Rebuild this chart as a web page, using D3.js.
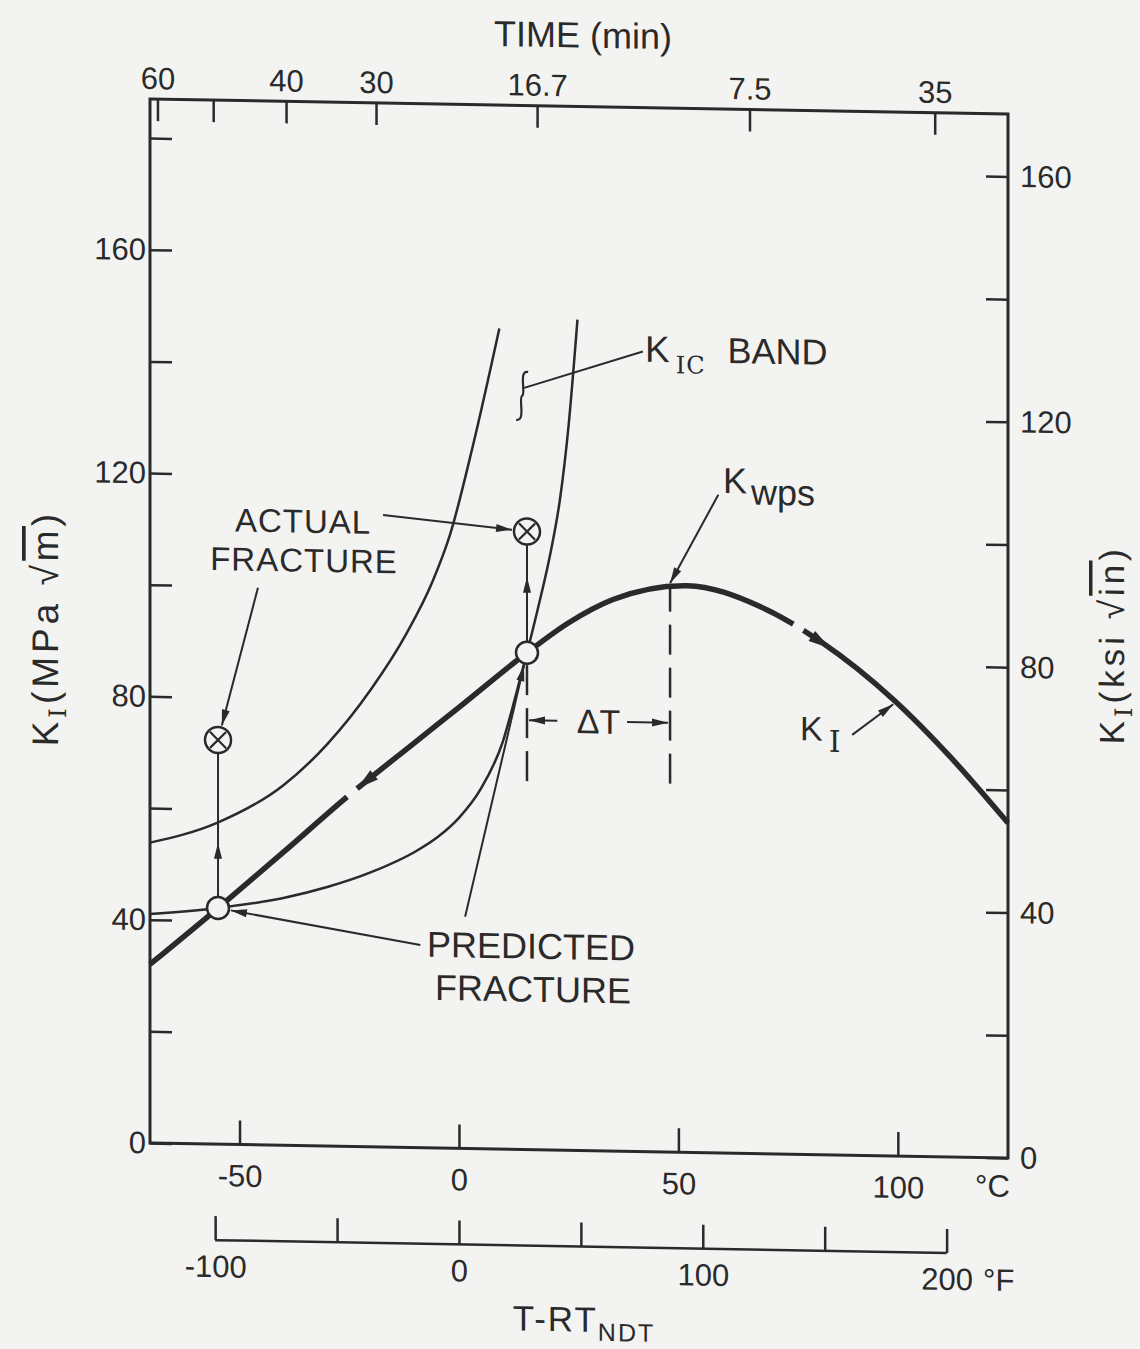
<!DOCTYPE html>
<html>
<head>
<meta charset="utf-8">
<script src="https://cdn.jsdelivr.net/npm/d3@7"></script>
<style>
	body { margin: 0; background: #f3f3f1; }
	text { font-family: "Liberation Sans", Arial, sans-serif; fill: #2a2a2a; }
</style>
</head>
<body>
<svg id="chart" width="1140" height="1349"></svg>
<script>
(function(){

	// K_I loading path, T-RT_NDT (C) vs K (MPa sqrt m)
	var kiTemp = [-70.4, -54.9, -40, -25.5, -10, 0, 15.5, 25, 35.1, 52, 68.6, 82.8, 98.9, 111.9, 125.1];
	var kiVal  = [32, 42.3, 52.5, 62.6, 72.6, 79, 89, 94.5, 98.8, 101.5, 98, 91.7, 81.8, 71.7, 60];

	// K_IC band, upper and lower bound
	var bandHiTemp = [-70.4, -55, -40, -30, -20, -12, -6, -2, 3.2, 9.2];
	var bandHiVal  = [53.8, 57.6, 64.5, 72, 82, 92, 101.5, 110, 126, 147];
	var bandLoTemp = [-70.4, -55, -40, -30, -20, -10, -5, 0, 5, 10, 13, 15.5, 18, 21, 23, 25, 27];
	var bandLoVal  = [41, 42.3, 44.3, 46.4, 49.2, 53, 55.6, 59.2, 64.5, 73, 81.5, 89, 97, 107.5, 116.5, 130, 148.8];

	// predicted (open circles) and actual (crossed circles) fracture
	var predTemp = [-54.9, 15.5], predVal = [42.3, 89.0];
	var actTemp  = [-54.9, 15.5], actVal  = [72.4, 110.7];
	var riseTip  = [54, 102.6];          // where the up arrows sit
	var wpsTemp = 48.1;                   // warm prestress point
	var dashBase = 66;                    // dashed lines stop here
	var deltaTVal = 76.9;                 // level of the delta T arrows

	// axis ticks
	var mpaTicks = [0, 20, 40, 60, 80, 100, 120, 140, 160, 180];
	var mpaLabels = [0, 40, 80, 120, 160];
	var ksiTicks = [0, 20, 40, 60, 80, 100, 120, 140, 160];
	var ksiLabels = [0, 40, 80, 120, 160];
	var cTicks = [-50, 0, 50, 100];
	var fTicks = [-100, -50, 0, 50, 100, 150, 200];
	var fLabels = [-100, 0, 100, 200];
	var timeTickTemp = [-68.7, -56, -39.4, -18.9, 17.8, 66.2, 108.4];
	var timeLabels = ["60", "", "40", "30", "16.7", "7.5", "35"];

	var W = 1140, H = 1349;
	var bg = "#f3f3f1", ink = "#2a2a2a";
	var skew = 1;	//the scanned page sits about one degree off
	var left = 150, right = 1008, top = 99, bottom = 1143;

	var svg = d3.select("#chart");
	svg.append("rect").attr("width", W).attr("height", H).attr("fill", bg);
	var t = Math.tan(skew * Math.PI / 180);
	var g = svg.append("g")
		.attr("transform", "translate(0," + (-left * t) + ") skewY(" + skew + ")");

	var x = d3.scaleLinear().domain([-70.4, 125.1]).range([left, right]);
	var xF = d3.scaleLinear().domain([-70.4 * 1.8, 125.1 * 1.8]).range([left, right]);
	var y = d3.scaleLinear().domain([0, 187]).range([bottom, top]);
	var yKsi = d3.scaleLinear().domain([0, 187 / 1.0988]).range([bottom, top]);

	function styleAxis(sel, size){
		sel.attr("font-family", null).attr("font-size", null);
		sel.select(".domain").remove();
		sel.selectAll(".tick line").attr("stroke", ink).attr("stroke-width", 2.5);
		sel.selectAll(".tick text").attr("fill", ink).style("font-size", size + "px");
	}
	function pick(list){ return function(d){ return list.indexOf(d) >= 0 ? String(d) : ""; }; }

	//frame
	g.append("rect")
		.attr("x", left).attr("y", top)
		.attr("width", right - left).attr("height", bottom - top)
		.attr("fill", "none").attr("stroke", ink).attr("stroke-width", 3);

	g.append("g").attr("transform", "translate(" + left + ",0)")
		.call(d3.axisLeft(y).tickValues(mpaTicks).tickSize(-22).tickPadding(4).tickFormat(pick(mpaLabels)))
		.call(styleAxis, 31);

	g.append("g").attr("transform", "translate(" + right + ",0)")
		.call(d3.axisRight(yKsi).tickValues(ksiTicks).tickSize(-22).tickPadding(12).tickFormat(pick(ksiLabels)))
		.call(styleAxis, 31);

	g.append("g").attr("transform", "translate(0," + bottom + ")")
		.call(d3.axisBottom(x).tickValues(cTicks).tickSize(-24).tickPadding(20).tickFormat(function(d){ return String(d); }))
		.call(styleAxis, 31);

	g.append("g").attr("transform", "translate(0," + top + ")")
		.call(d3.axisTop(x).tickValues(timeTickTemp).tickSize(-22).tickPadding(10)
			.tickFormat(function(d, i){ return timeLabels[i]; }))
		.call(styleAxis, 31);

	//fahrenheit scale under the plot
	var fAxisY = 1239;
	var fAxis = g.append("g").attr("transform", "translate(0," + fAxisY + ")")
		.call(d3.axisBottom(xF).tickValues(fTicks).tickSize(-24).tickPadding(15).tickFormat(pick(fLabels)))
		.call(styleAxis, 31);
	fAxis.append("line")
		.attr("x1", xF(-100)).attr("x2", xF(200))
		.attr("stroke", ink).attr("stroke-width", 2.5);

	g.append("text").attr("x", 975).attr("y", 1182).style("font-size", "31px").text("°C");
	g.append("text").attr("x", 983).attr("y", 1276).style("font-size", "31px").text("°F");

	//curves
	var line = d3.line()
		.x(function(d){ return x(d[0]); })
		.y(function(d){ return y(d[1]); })
		.curve(d3.curveMonotoneX);

	g.append("path").datum(d3.zip(bandHiTemp, bandHiVal))
		.attr("d", line).attr("fill", "none").attr("stroke", ink).attr("stroke-width", 2.5);
	g.append("path").datum(d3.zip(bandLoTemp, bandLoVal))
		.attr("d", line).attr("fill", "none").attr("stroke", ink).attr("stroke-width", 2.5);

	var kiPath = g.append("path").datum(d3.zip(kiTemp, kiVal))
		.attr("d", line).attr("fill", "none").attr("stroke", ink).attr("stroke-width", 5.5);
	var kiNode = kiPath.node();

	//find the point on a path at a given screen x
	function pointAtX(node, px){
		var lo = 0, hi = node.getTotalLength();
		for(var i = 0; i < 40; i++){
			var mid = (lo + hi) / 2;
			if(node.getPointAtLength(mid).x < px) lo = mid; else hi = mid;
		}
		return node.getPointAtLength((lo + hi) / 2);
	}

	function arrowHead(tip, from, len, wid){
		var dx = tip.x - from.x, dy = tip.y - from.y;
		var d = Math.sqrt(dx * dx + dy * dy);
		var ux = dx / d, uy = dy / d;
		var bx = tip.x - ux * len, by = tip.y - uy * len;
		var pts = [[tip.x, tip.y], [bx - uy * wid / 2, by + ux * wid / 2], [bx + uy * wid / 2, by - ux * wid / 2]];
		g.append("path").attr("d", "M" + pts.join("L") + "Z").attr("fill", ink);
	}

	function seg(a, b, w, col){
		return g.append("line")
			.attr("x1", a.x).attr("y1", a.y).attr("x2", b.x).attr("y2", b.y)
			.attr("stroke", col || ink).attr("stroke-width", w || 2);
	}

	function pt(T, K){ return {x: x(T), y: y(K)}; }

	//leader: line from a to b, stopping short of b by gap px, arrowhead at end
	function leader(a, b, gap){
		var dx = b.x - a.x, dy = b.y - a.y, d = Math.sqrt(dx * dx + dy * dy);
		var end = {x: b.x - dx / d * gap, y: b.y - dy / d * gap};
		seg(a, end, 2);
		arrowHead(end, a, 16, 8);
	}

	//direction arrows on the loading path, with a break before each
	seg(pointAtX(kiNode, x(-25.5)), pointAtX(kiNode, x(-23.2)), 10, bg);
	arrowHead(pointAtX(kiNode, x(-23.2)), pointAtX(kiNode, x(-17.9)), 22, 12);
	seg(pointAtX(kiNode, x(76.2)), pointAtX(kiNode, x(78.5)), 10, bg);
	arrowHead(pointAtX(kiNode, x(84.6)), pointAtX(kiNode, x(78.5)), 22, 12);

	//dashed verticals for delta T
	var rOpen = 11, rCross = 13;
	g.append("line")
		.attr("x1", x(predTemp[1])).attr("x2", x(predTemp[1]))
		.attr("y1", y(dashBase)).attr("y2", y(predVal[1]) + rOpen)
		.attr("stroke", ink).attr("stroke-width", 2.5).attr("stroke-dasharray", "30,13");
	var wpsPt = pointAtX(kiNode, x(wpsTemp));
	g.append("line")
		.attr("x1", x(wpsTemp)).attr("x2", x(wpsTemp))
		.attr("y1", y(dashBase)).attr("y2", wpsPt.y)
		.attr("stroke", ink).attr("stroke-width", 2.5).attr("stroke-dasharray", "30,13");

	leader(pt(22.4, deltaTVal), pt(predTemp[1], deltaTVal), 2);
	leader(pt(38.3, deltaTVal), pt(wpsTemp, deltaTVal), 2);
	g.append("text").attr("x", x((predTemp[1] + wpsTemp) / 2)).attr("y", y(deltaTVal) + 12)
		.attr("text-anchor", "middle").style("font-size", "34px").text("ΔT");

	//up arrows from predicted to actual fracture
	predTemp.forEach(function(T, i){
		var a = {x: x(T), y: y(predVal[i]) - rOpen};
		var b = {x: x(T), y: y(actVal[i]) + rCross};
		seg(a, b, 2);
		arrowHead(pt(T, riseTip[i]), a, 16, 8);
	});

	//leaders
	function toCircle(from, c, r){
		var dx = c.x - from.x, dy = c.y - from.y, d = Math.sqrt(dx * dx + dy * dy);
		return {x: c.x - dx / d * r, y: c.y - dy / d * r};
	}
	var actRight = pt(actTemp[1], actVal[1]), actLeft = pt(actTemp[0], actVal[0]);
	var predLeft = pt(predTemp[0], predVal[0]), predRight = pt(predTemp[1], predVal[1]);

	leader(pt(-17.3, 113.2), toCircle(pt(-17.3, 113.2), actRight, rCross + 2), 0);
	leader(pt(-45.8, 99.8), toCircle(pt(-45.8, 99.8), actLeft, rCross + 2), 0);
	leader(pt(-8.8, 36.3), toCircle(pt(-8.8, 36.3), predLeft, rOpen + 2), 0);
	leader(pt(1.4, 41.5), toCircle(pt(1.4, 41.5), predRight, rOpen + 2), 0);
	leader(pt(59.1, 117.9), {x: wpsPt.x, y: wpsPt.y - 3}, 0);
	var kiPt = pointAtX(kiNode, x(99.4));
	leader(pt(89.6, 75.3), {x: kiPt.x - 2, y: kiPt.y + 3}, 0);

	//K_IC band brace and its leader
	var br = pt(14.4, 135);
	seg(pt(41.9, 143.3), {x: br.x + 2, y: br.y - 8}, 2);
	g.append("path")
		.attr("d", "M" + (br.x + 6) + "," + (br.y - 24) +
			"C" + (br.x - 4) + "," + (br.y - 26) + " " + (br.x + 4) + "," + (br.y - 2) + " " + br.x + "," + br.y +
			"C" + (br.x - 4) + "," + (br.y + 2) + " " + (br.x + 4) + "," + (br.y + 26) + " " + (br.x - 6) + "," + (br.y + 24))
		.attr("fill", "none").attr("stroke", ink).attr("stroke-width", 2.2);

	//markers
	g.selectAll(".pred").data(d3.zip(predTemp, predVal)).enter()
		.append("circle").attr("class", "pred")
		.attr("cx", function(d){ return x(d[0]); })
		.attr("cy", function(d){ return y(d[1]); })
		.attr("r", rOpen)
		.attr("fill", bg).attr("stroke", ink).attr("stroke-width", 2.5);

	var act = g.selectAll(".act").data(d3.zip(actTemp, actVal)).enter()
		.append("g").attr("class", "act")
		.attr("transform", function(d){ return "translate(" + x(d[0]) + "," + y(d[1]) + ")"; });
	act.append("circle").attr("r", rCross).attr("fill", bg).attr("stroke", ink).attr("stroke-width", 2.5);
	var k = rCross * 0.62;
	act.append("path").attr("d", "M" + (-k) + "," + (-k) + "L" + k + "," + k + "M" + k + "," + (-k) + "L" + (-k) + "," + k)
		.attr("stroke", ink).attr("stroke-width", 2.2);

	//labels
	function label(px, py, str, size){
		return g.append("text").attr("x", px).attr("y", py).attr("text-anchor", "middle")
			.style("font-size", size + "px").text(str);
	}
	label(303, 530, "ACTUAL", 33).style("letter-spacing", "1px");
	label(304, 569, "FRACTURE", 33).style("letter-spacing", "1px");
	label(531, 952, "PREDICTED", 36);
	label(533, 995, "FRACTURE", 36);

	var kic = g.append("text").attr("x", 645).attr("y", 353).style("font-size", "37px");
	kic.append("tspan").text("K");
	kic.append("tspan").attr("dy", 11).attr("dx", 6).style("font-size", "24px")
		.style("font-family", "DejaVu Serif").style("letter-spacing", "1px").text("IC");
	kic.append("tspan").attr("dy", -11).attr("dx", 22).style("font-size", "36px").text("BAND");

	var kw = g.append("text").attr("x", 723).attr("y", 483).style("font-size", "36px");
	kw.append("tspan").text("K");
	kw.append("tspan").attr("dy", 11).attr("dx", 4).text("wps");

	var ki = g.append("text").attr("x", 800).attr("y", 729).style("font-size", "34px");
	ki.append("tspan").text("K");
	ki.append("tspan").attr("dy", 11).attr("dx", 6).style("font-family", "DejaVu Serif").style("font-size", "30px").text("I");

	label(583, 40, "TIME (min)", 36);

	var bt = g.append("text").attr("x", 584).attr("y", 1324).attr("text-anchor", "middle")
		.style("font-size", "35px").style("letter-spacing", "2px");
	bt.append("tspan").text("T-RT");
	bt.append("tspan").attr("dy", 9).style("font-size", "25px").text("NDT");

	function sideTitle(px, py, unit, root, size){
		var tt = g.append("text").attr("transform", "translate(" + px + "," + py + ") rotate(-90)")
			.attr("text-anchor", "middle").style("font-size", size + "px").style("letter-spacing", "4px");
		tt.append("tspan").text("K");
		tt.append("tspan").attr("dy", 8).style("font-size", "24px").style("font-family", "DejaVu Serif").text("I");
		tt.append("tspan").attr("dy", -8).text("(" + unit + " √");
		tt.append("tspan").style("text-decoration", "overline").text(root);
		tt.append("tspan").text(")");
	}
	sideTitle(58, 630, "MPa", "m", 37);
	sideTitle(1124, 628, "ksi", "in", 35);

})();
</script>
</body>
</html>
